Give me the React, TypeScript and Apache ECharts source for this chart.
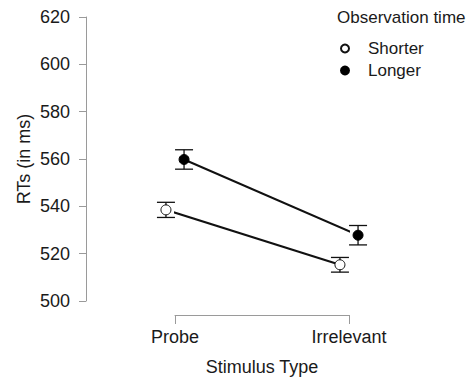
import React, { useEffect, useRef } from "react";
import * as echarts from "echarts";

const categories = ["Probe", "Irrelevant"];
const shorterMeans = [538.5, 515.3];
const shorterErr = [3.2, 3.1];
const longerMeans = [559.8, 527.8];
const longerErr = [4.1, 4.1];
const yTicks = { min: 500, max: 620, interval: 20 };

const DODGE = 0.052;
const FONT = "'Liberation Sans', Arial, sans-serif";
const AXIS_GRAY = "#9a9a9a";
const TEXT = "#1a1a1a";

export default function App() {
  const ref = useRef<HTMLDivElement>(null);
  useEffect(() => {
    if (!ref.current) return;
    const chart = echarts.init(ref.current, undefined, { renderer: "svg" });
    const shorterPts = shorterMeans.map((m, i) => [i - DODGE, m]);
    const longerPts = longerMeans.map((m, i) => [i + DODGE, m]);
    const errData = [
      ...shorterMeans.map((m, i) => [i - DODGE, m - shorterErr[i], m + shorterErr[i]]),
      ...longerMeans.map((m, i) => [i + DODGE, m - longerErr[i], m + longerErr[i]]),
    ];
    chart.setOption({
      animation: false,
      textStyle: { fontFamily: FONT },
      title: {
        text: "Observation time",
        left: 337,
        top: 9,
        padding: 0,
        textStyle: { fontSize: 17, fontWeight: "normal", color: TEXT, fontFamily: FONT },
      },
      legend: {
        data: ["Shorter", "Longer"],
        orient: "vertical",
        left: 340,
        top: 40,
        padding: 0,
        itemWidth: 36,
        itemHeight: 8,
        itemGap: 5,
        textStyle: { fontSize: 17, color: TEXT, fontFamily: FONT },
      },
      grid: { left: 175, right: 122, top: 17, bottom: 79 },
      xAxis: {
        type: "value",
        min: 0,
        max: categories.length - 1,
        interval: 1,
        offset: 14,
        name: "Stimulus Type",
        nameLocation: "middle",
        nameGap: 43,
        nameTextStyle: { fontSize: 18, color: TEXT, fontFamily: FONT },
        axisLine: { show: true, onZero: false, lineStyle: { color: AXIS_GRAY, width: 1 } },
        axisTick: { show: true, length: 9, inside: false, lineStyle: { color: AXIS_GRAY } },
        axisLabel: {
          fontSize: 18,
          color: TEXT,
          margin: 13,
          formatter: (v: number) => categories[Math.round(v)] ?? "",
        },
        splitLine: { show: false },
      },
      yAxis: {
        type: "value",
        min: yTicks.min,
        max: yTicks.max,
        interval: yTicks.interval,
        offset: 89,
        name: "RTs (in ms)",
        nameLocation: "middle",
        nameGap: 53,
        nameTextStyle: { fontSize: 18, color: TEXT, fontFamily: FONT },
        axisLine: { show: true, onZero: false, lineStyle: { color: AXIS_GRAY, width: 1 } },
        axisTick: { show: true, length: 7, inside: false, lineStyle: { color: AXIS_GRAY } },
        axisLabel: { fontSize: 18, color: TEXT, margin: 16 },
        splitLine: { show: false },
      },
      series: [
        {
          name: "err",
          type: "custom",
          clip: false,
          z: 1,
          data: errData,
          renderItem: (params: any, api: any) => {
            const x = api.value(0);
            const lo = api.coord([x, api.value(1)]);
            const hi = api.coord([x, api.value(2)]);
            const hw = 9;
            const st = { stroke: "#111", lineWidth: 1.3 };
            return {
              type: "group",
              children: [
                { type: "line", shape: { x1: lo[0], y1: lo[1], x2: hi[0], y2: hi[1] }, style: st },
                { type: "line", shape: { x1: lo[0] - hw, y1: lo[1], x2: lo[0] + hw, y2: lo[1] }, style: st },
                { type: "line", shape: { x1: hi[0] - hw, y1: hi[1], x2: hi[0] + hw, y2: hi[1] }, style: st },
              ],
            };
          },
        },
        {
          name: "ShorterLine",
          type: "line",
          clip: false,
          z: 2,
          symbol: "none",
          data: shorterPts,
          lineStyle: { color: "#111", width: 2 },
        },
        {
          name: "LongerLine",
          type: "line",
          clip: false,
          z: 2,
          symbol: "none",
          data: longerPts,
          lineStyle: { color: "#111", width: 2 },
        },
        {
          name: "Shorter",
          type: "scatter",
          clip: false,
          z: 3,
          symbol: "circle",
          symbolSize: 10,
          data: shorterPts,
          itemStyle: { color: "#ffffff", borderColor: "#111", borderWidth: 1, opacity: 1 },
        },
        {
          name: "Longer",
          type: "scatter",
          clip: false,
          z: 3,
          symbol: "circle",
          symbolSize: 10,
          data: longerPts,
          itemStyle: { color: "#000000", borderColor: "#000", borderWidth: 1, opacity: 1 },
        },
      ],
    });
    return () => chart.dispose();
  }, []);
  return (
    <div
      ref={ref}
      style={{ position: "fixed", left: 0, top: 0, width: 471, height: 381, background: "#fff" }}
    />
  );
}
